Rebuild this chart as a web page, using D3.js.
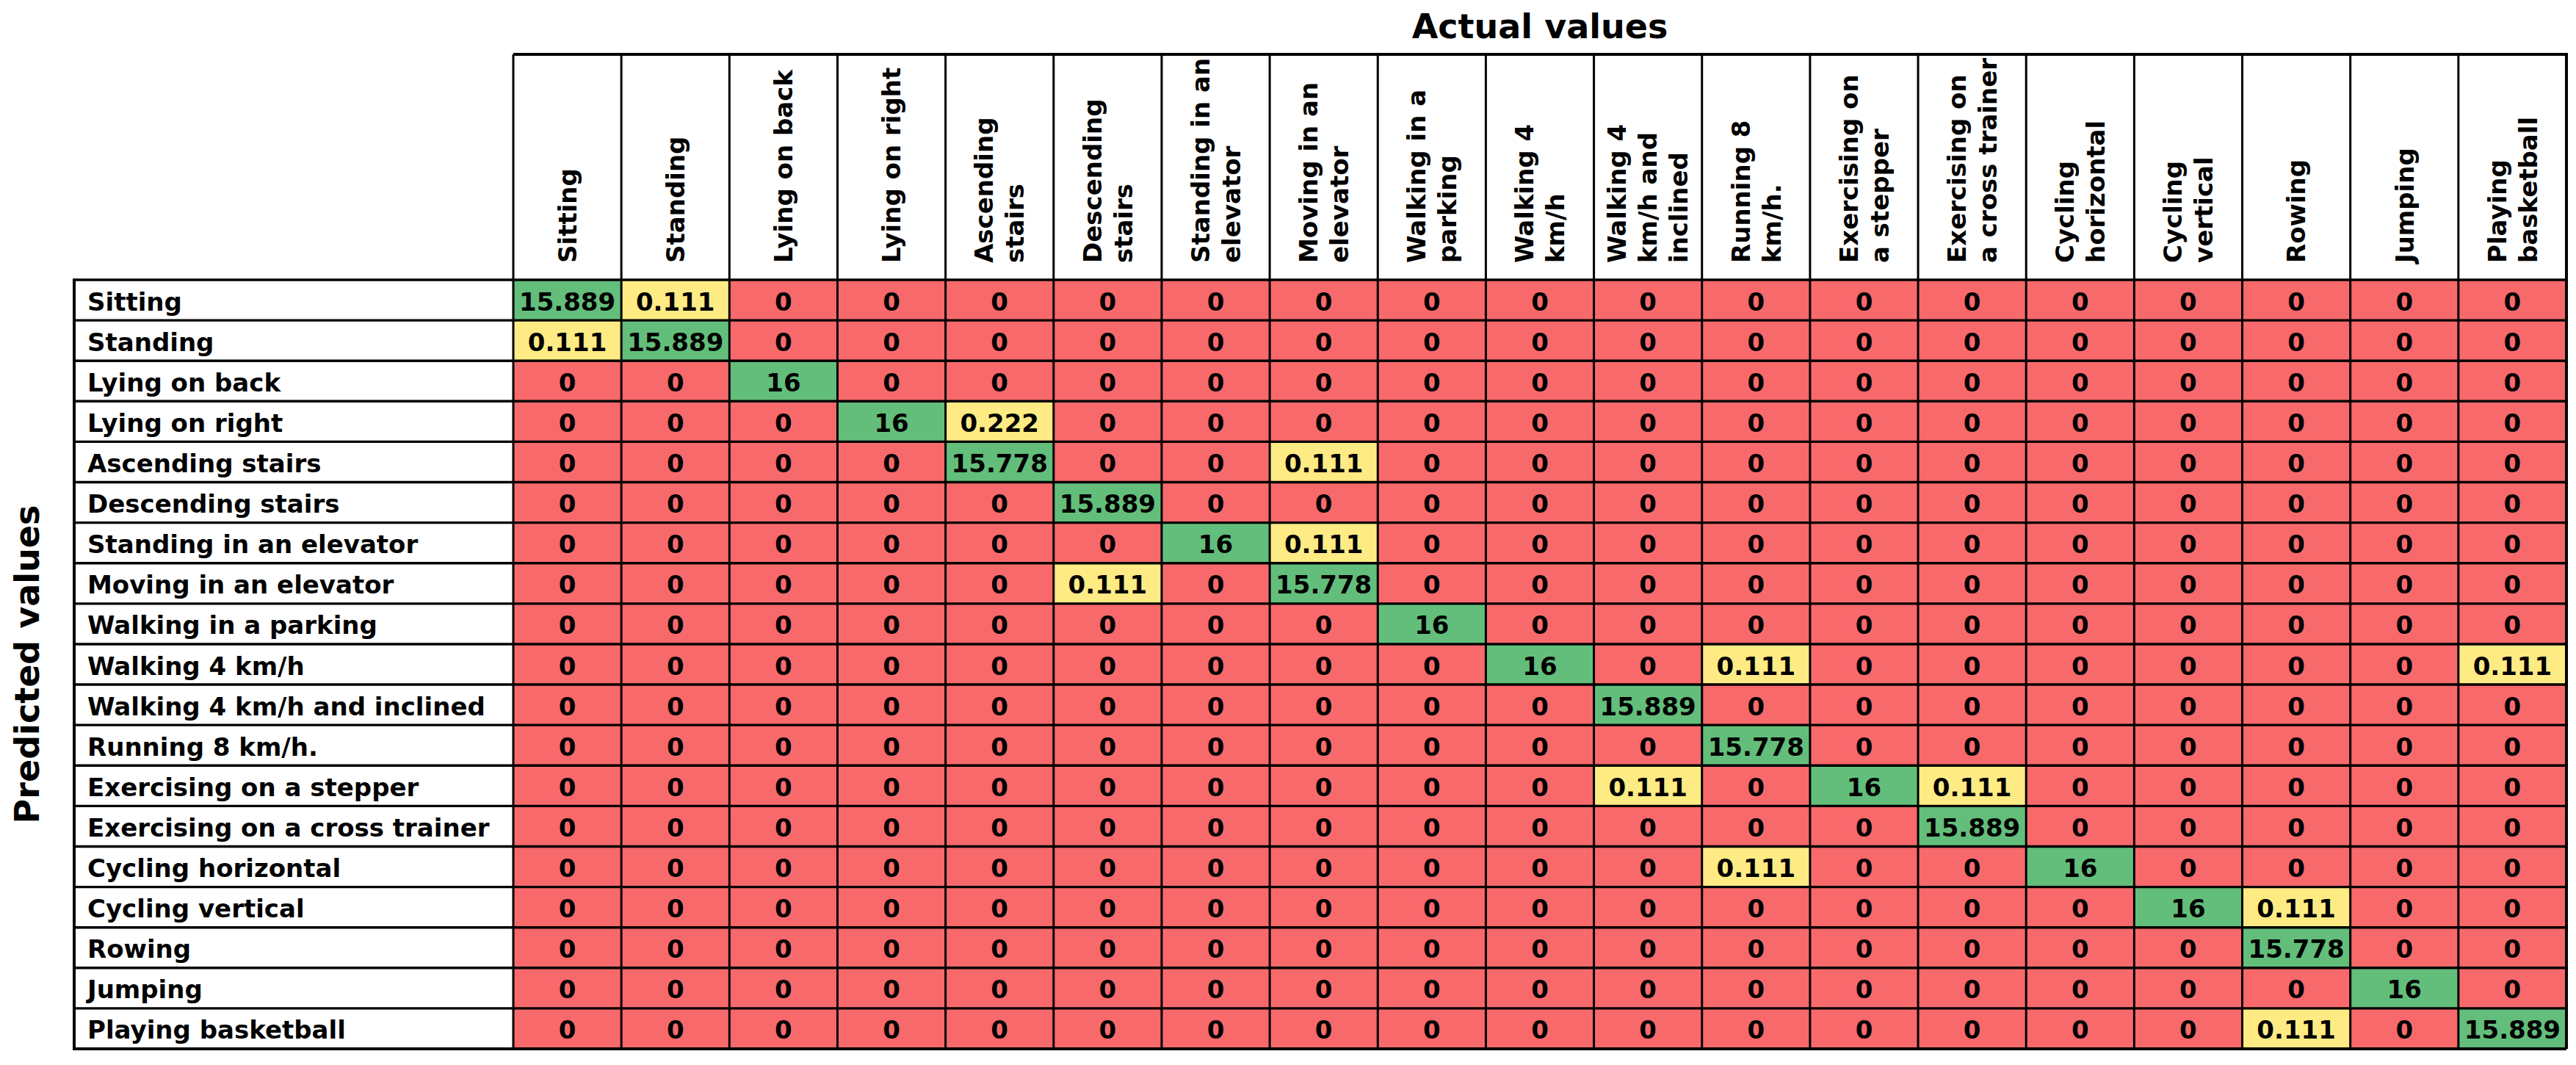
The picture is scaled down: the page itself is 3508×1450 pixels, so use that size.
<!DOCTYPE html>
<html lang="en">
<head>
    <meta charset="UTF-8">
    <title>Confusion matrix</title>
    <script src="https://d3js.org/d3.v7.min.js"></script>
    <style>
        body { margin: 0; background: #ffffff; }
        svg { display: block; background: #ffffff; }
        text { font-family: "DejaVu Sans", sans-serif; font-weight: bold; fill: #000; }
    </style>
</head>
<body>
    <svg id="chart" width="3508" height="1450"></svg>
    <script>
        // column headers (actual), already split into the lines shown
        const actualLabels = [
            ["Sitting"], ["Standing"], ["Lying on back"], ["Lying on right"],
            ["Ascending", "stairs"], ["Descending", "stairs"],
            ["Standing in an", "elevator"], ["Moving in an", "elevator"],
            ["Walking in a", "parking"], ["Walking 4", "km/h"],
            ["Walking 4", "km/h and", "inclined"], ["Running 8", "km/h."],
            ["Exercising on", "a stepper"], ["Exercising on", "a cross trainer"],
            ["Cycling", "horizontal"], ["Cycling", "vertical"],
            ["Rowing"], ["Jumping"], ["Playing", "basketball"]
        ];

        // row labels (predicted)
        const predictedLabels = [
            "Sitting", "Standing", "Lying on back", "Lying on right",
            "Ascending stairs", "Descending stairs", "Standing in an elevator",
            "Moving in an elevator", "Walking in a parking", "Walking 4 km/h",
            "Walking 4 km/h and inclined", "Running 8 km/h.", "Exercising on a stepper",
            "Exercising on a cross trainer", "Cycling horizontal", "Cycling vertical",
            "Rowing", "Jumping", "Playing basketball"
        ];

        // rows = predicted, columns = actual
        const values = [
            [15.889, 0.111, 0, 0, 0, 0, 0, 0, 0, 0, 0, 0, 0, 0, 0, 0, 0, 0, 0],
            [0.111, 15.889, 0, 0, 0, 0, 0, 0, 0, 0, 0, 0, 0, 0, 0, 0, 0, 0, 0],
            [0, 0, 16, 0, 0, 0, 0, 0, 0, 0, 0, 0, 0, 0, 0, 0, 0, 0, 0],
            [0, 0, 0, 16, 0.222, 0, 0, 0, 0, 0, 0, 0, 0, 0, 0, 0, 0, 0, 0],
            [0, 0, 0, 0, 15.778, 0, 0, 0.111, 0, 0, 0, 0, 0, 0, 0, 0, 0, 0, 0],
            [0, 0, 0, 0, 0, 15.889, 0, 0, 0, 0, 0, 0, 0, 0, 0, 0, 0, 0, 0],
            [0, 0, 0, 0, 0, 0, 16, 0.111, 0, 0, 0, 0, 0, 0, 0, 0, 0, 0, 0],
            [0, 0, 0, 0, 0, 0.111, 0, 15.778, 0, 0, 0, 0, 0, 0, 0, 0, 0, 0, 0],
            [0, 0, 0, 0, 0, 0, 0, 0, 16, 0, 0, 0, 0, 0, 0, 0, 0, 0, 0],
            [0, 0, 0, 0, 0, 0, 0, 0, 0, 16, 0, 0.111, 0, 0, 0, 0, 0, 0, 0.111],
            [0, 0, 0, 0, 0, 0, 0, 0, 0, 0, 15.889, 0, 0, 0, 0, 0, 0, 0, 0],
            [0, 0, 0, 0, 0, 0, 0, 0, 0, 0, 0, 15.778, 0, 0, 0, 0, 0, 0, 0],
            [0, 0, 0, 0, 0, 0, 0, 0, 0, 0, 0.111, 0, 16, 0.111, 0, 0, 0, 0, 0],
            [0, 0, 0, 0, 0, 0, 0, 0, 0, 0, 0, 0, 0, 15.889, 0, 0, 0, 0, 0],
            [0, 0, 0, 0, 0, 0, 0, 0, 0, 0, 0, 0.111, 0, 0, 16, 0, 0, 0, 0],
            [0, 0, 0, 0, 0, 0, 0, 0, 0, 0, 0, 0, 0, 0, 0, 16, 0.111, 0, 0],
            [0, 0, 0, 0, 0, 0, 0, 0, 0, 0, 0, 0, 0, 0, 0, 0, 15.778, 0, 0],
            [0, 0, 0, 0, 0, 0, 0, 0, 0, 0, 0, 0, 0, 0, 0, 0, 0, 16, 0],
            [0, 0, 0, 0, 0, 0, 0, 0, 0, 0, 0, 0, 0, 0, 0, 0, 0.111, 0, 15.889]
        ];

        const cellKinds = ["correct", "confused", "empty"];
        const cellColors = ["#63be7b", "#ffeb84", "#f8696b"];

        const svg = d3.select("#chart");

        // layout
        const labelLeft = 101, gridLeft = 699, gridRight = 3495;
        const headTop = 74, rowsTop = 381, rowsBottom = 1428;

        const colIds = d3.range(actualLabels.length);
        const rowIds = d3.range(predictedLabels.length);

        const x = d3.scaleBand().domain(colIds).range([gridLeft, gridRight]);
        const y = d3.scaleBand().domain(rowIds).range([rowsTop, rowsBottom]);
        const color = d3.scaleOrdinal().domain(cellKinds).range(cellColors);
        const fmt = d3.format(".5~g");

        const cells = [];
        values.forEach((row, r) => row.forEach((v, c) => {
            const kind = r === c ? "correct" : (v > 0 ? "confused" : "empty");
            cells.push({ r, c, v, kind });
        }));

        // cell fills
        svg.append("g").selectAll("rect")
            .data(cells)
            .join("rect")
            .attr("x", d => x(d.c))
            .attr("y", d => y(d.r))
            .attr("width", x.bandwidth())
            .attr("height", y.bandwidth())
            .attr("fill", d => color(d.kind));

        // cell numbers
        svg.append("g").selectAll("text")
            .data(cells)
            .join("text")
            .attr("x", d => x(d.c) + x.bandwidth() / 2)
            .attr("y", d => y(d.r) + y.bandwidth() / 2 + 14)
            .attr("text-anchor", "middle")
            .style("font-size", "34px")
            .text(d => fmt(d.v));

        // row labels
        svg.append("g").selectAll("text")
            .data(rowIds)
            .join("text")
            .attr("x", labelLeft + 18)
            .attr("y", d => y(d) + y.bandwidth() / 2 + 14)
            .style("font-size", "34px")
            .text(d => predictedLabels[d]);

        // column headers, rotated, bottom aligned
        const lineGap = 42;
        const head = svg.append("g").selectAll("text")
            .data(colIds)
            .join("text")
            .attr("transform", d => `translate(${x(d) + x.bandwidth() / 2},358) rotate(-90)`)
            .style("font-size", "34px");

        head.selectAll("tspan")
            .data(d => actualLabels[d].map((t, i, arr) => ({ t, off: (i - (arr.length - 1) / 2) * lineGap })))
            .join("tspan")
            .attr("x", 0)
            .attr("y", d => d.off)
            .attr("dy", "0.36em")
            .text(d => d.t);

        // grid lines
        const grid = svg.append("g").attr("stroke", "#000");

        grid.selectAll("line.v")
            .data(d3.range(colIds.length + 1))
            .join("line")
            .attr("class", "v")
            .attr("x1", i => gridLeft + i * x.step())
            .attr("x2", i => gridLeft + i * x.step())
            .attr("y1", headTop)
            .attr("y2", rowsBottom)
            .attr("stroke-width", i => i === colIds.length ? 4 : 3);

        grid.selectAll("line.h")
            .data(d3.range(rowIds.length + 1))
            .join("line")
            .attr("class", "h")
            .attr("x1", labelLeft)
            .attr("x2", gridRight)
            .attr("y1", i => rowsTop + i * y.step())
            .attr("y2", i => rowsTop + i * y.step())
            .attr("stroke-width", i => i === rowIds.length ? 4 : 3.4);

        grid.append("line")
            .attr("x1", gridLeft).attr("x2", gridRight + 2)
            .attr("y1", headTop).attr("y2", headTop)
            .attr("stroke-width", 4);

        grid.append("line")
            .attr("x1", labelLeft).attr("x2", labelLeft)
            .attr("y1", rowsTop - 1.7).attr("y2", rowsBottom + 2)
            .attr("stroke-width", 4);

        // axis titles
        svg.append("text")
            .attr("x", (gridLeft + gridRight) / 2)
            .attr("y", 52)
            .attr("text-anchor", "middle")
            .style("font-size", "46px")
            .text("Actual values");

        svg.append("text")
            .attr("transform", `translate(53,${(rowsTop + rowsBottom) / 2}) rotate(-90)`)
            .attr("text-anchor", "middle")
            .style("font-size", "46px")
            .text("Predicted values");
    </script>
</body>
</html>
